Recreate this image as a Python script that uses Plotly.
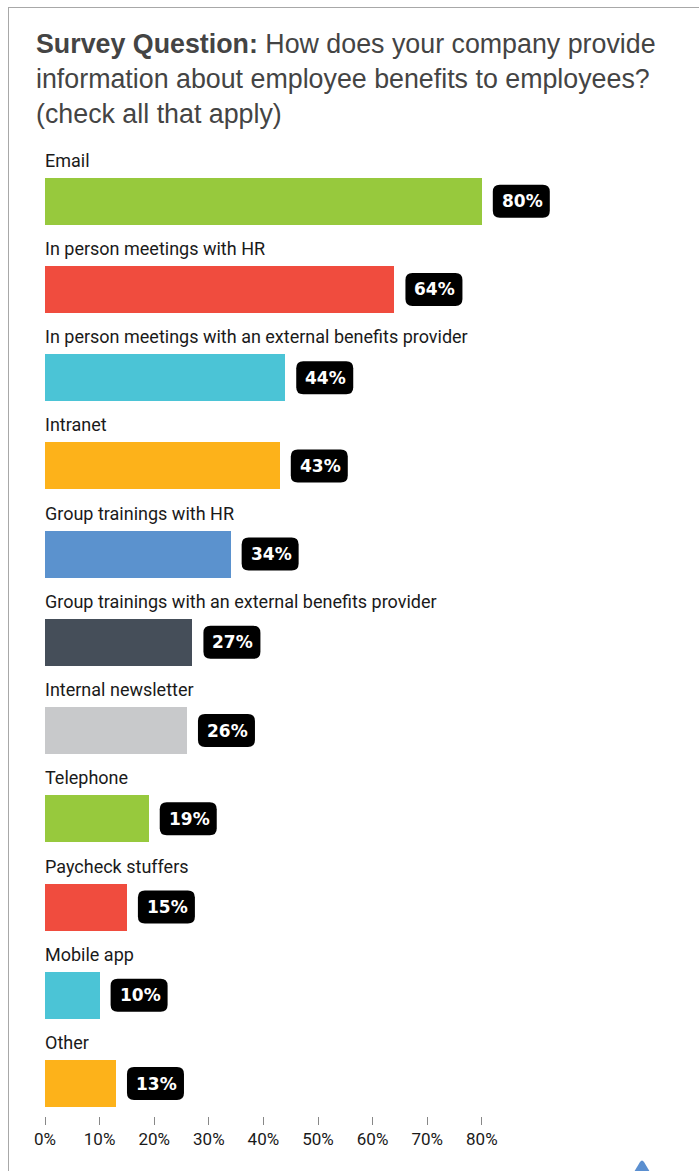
import plotly.graph_objects as go

# Survey responses (share of companies, %)
categories = [
    "Email",
    "In person meetings with HR",
    "In person meetings with an external benefits provider",
    "Intranet",
    "Group trainings with HR",
    "Group trainings with an external benefits provider",
    "Internal newsletter",
    "Telephone",
    "Paycheck stuffers",
    "Mobile app",
    "Other",
]
values = [80, 64, 44, 43, 34, 27, 26, 19, 15, 10, 13]
bar_colors = [
    "#97C93D", "#F04C3E", "#4BC4D6", "#FDB21A", "#5B92CE", "#454E59",
    "#C8C9CB", "#97C93D", "#F04C3E", "#4BC4D6", "#FDB21A",
]
tick_values = [0, 10, 20, 30, 40, 50, 60, 70, 80]
tick_labels = [f"{v}%" for v in tick_values]

W, H = 699, 1171
ML, MR, MT, MB = 45, 108, 135, 55
PW, PH = W - ML - MR, H - MT - MB

rows = list(range(len(categories)))

fig = go.Figure()
fig.add_trace(go.Bar(
    x=values, y=rows, orientation="h", base=0, width=0.533,
    marker=dict(color=bar_colors, line=dict(width=0)),
    hoverinfo="skip", showlegend=False,
))

annotations = []
shapes = []

def px_x(p):
    return (p - ML) / PW

def px_y(p):
    return (H - MB - p) / PH

# Category label above each bar
for i, name in enumerate(categories):
    annotations.append(dict(
        x=0, y=i, xref="x", yref="y", text=name, showarrow=False,
        xanchor="left", yanchor="middle", yshift=41, xshift=-2,
        font=dict(family="Roboto", size=18, color="#1a1a1a"),
    ))

# Rounded value badges to the right of each bar
bw, bh, r, gap = 57, 33, 7, 11
x0, x1 = gap, gap + bw
y0, y1 = -bh / 2, bh / 2
badge_path = (
    f"M{x0 + r},{y0} L{x1 - r},{y0} Q{x1},{y0} {x1},{y0 + r} "
    f"L{x1},{y1 - r} Q{x1},{y1} {x1 - r},{y1} "
    f"L{x0 + r},{y1} Q{x0},{y1} {x0},{y1 - r} "
    f"L{x0},{y0 + r} Q{x0},{y0} {x0 + r},{y0} Z"
)
for i, v in enumerate(values):
    shapes.append(dict(
        type="path", xref="x", yref="y", xsizemode="pixel", ysizemode="pixel",
        xanchor=v, yanchor=i, path=badge_path,
        fillcolor="#000000", line=dict(width=0), layer="above",
    ))
    annotations.append(dict(
        x=v, y=i, xref="x", yref="y", text=f"{v}%", showarrow=False,
        xanchor="center", yanchor="middle", xshift=gap + bw / 2 + 1,
        font=dict(family="DejaVu Sans", size=17, color="#ffffff", weight="bold"),
    ))

# Title
annotations.append(dict(
    x=px_x(34), y=px_y(27), xref="paper", yref="paper",
    xanchor="left", yanchor="top", align="left", showarrow=False,
    text="<b>Survey Question:</b> How does your company provide<br>"
         "information about employee benefits to employees?<br>"
         "(check all that apply)",
    font=dict(family="Liberation Sans, Arial", size=26.8, color="#444444"),
))

# Card border (top and left edges)
shapes.append(dict(type="line", xref="paper", yref="paper",
                   x0=px_x(8), x1=px_x(699), y0=px_y(7.5), y1=px_y(7.5),
                   line=dict(color="#a8a8a8", width=1)))
shapes.append(dict(type="line", xref="paper", yref="paper",
                   x0=px_x(8.5), x1=px_x(8.5), y0=px_y(7), y1=px_y(1171),
                   line=dict(color="#a8a8a8", width=1)))

# Small blue marker peeking in at the bottom right
cx = 642
shapes.append(dict(
    type="path", xref="paper", yref="paper",
    path=(f"M{px_x(cx - 8)},{px_y(1172)} L{px_x(cx - 2)},{px_y(1162)} "
          f"Q{px_x(cx)},{px_y(1159)} {px_x(cx + 2)},{px_y(1162)} "
          f"L{px_x(cx + 8)},{px_y(1172)} Z"),
    fillcolor="#5B8FD0", line=dict(width=0),
))

fig.update_layout(
    width=W, height=H,
    margin=dict(l=ML, r=MR, t=MT, b=MB, pad=0),
    paper_bgcolor="#ffffff", plot_bgcolor="#ffffff",
    bargap=0,
    xaxis=dict(
        range=[0, 100], tickvals=tick_values, ticktext=tick_labels,
        ticks="outside", ticklen=8, tickcolor="#888888", tickwidth=1,
        showgrid=False, zeroline=False, showline=False,
        tickfont=dict(family="Roboto", size=17, color="#1a1a1a"),
        fixedrange=True,
    ),
    yaxis=dict(
        range=[10.368, -0.75], showticklabels=False, showgrid=False,
        zeroline=False, showline=False, ticks="", fixedrange=True,
    ),
    annotations=annotations,
    shapes=shapes,
    showlegend=False,
)

fig.write_html("out.html", config={"displayModeBar": False})
